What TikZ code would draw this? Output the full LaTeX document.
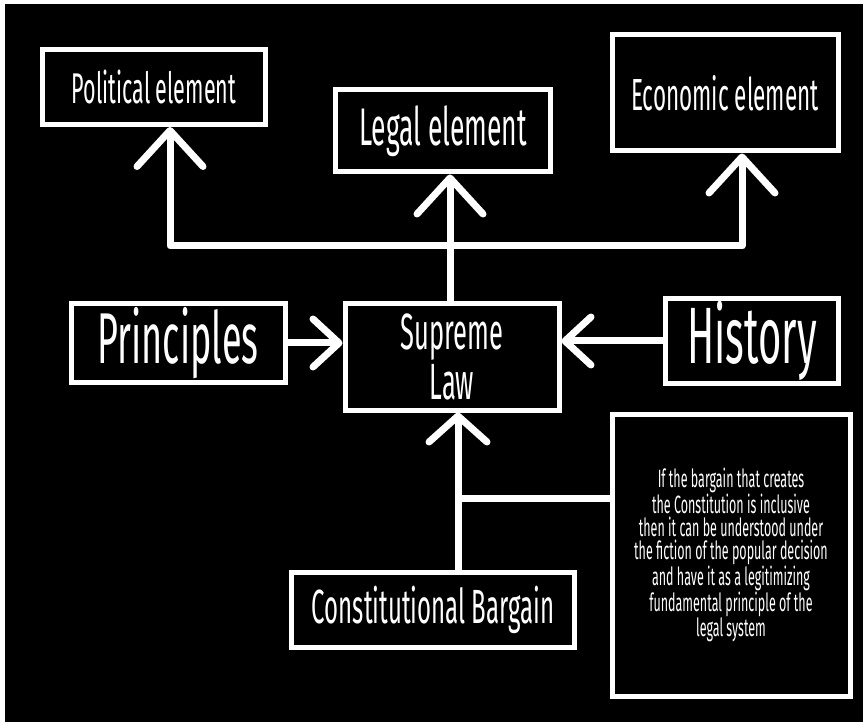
\documentclass[tikz,border=0pt]{standalone}
\usepackage{fontspec}
\setmainfont[FakeStretch=0.5]{Fira Sans}
\usetikzlibrary{arrows.meta}

\begin{document}
\begin{tikzpicture}[x=1pt,y=-1pt,
  box/.style={draw=white,line width=5pt,fill=black,text=white,inner sep=0pt},
  link/.style={draw=white,line width=7pt,line join=round},
  arrbig/.style={link,-{Straight Barb[round,length=36pt,width=66pt]}},
  arrmid/.style={link,-{Straight Barb[round,length=26pt,width=58pt]}},
  arrsmall/.style={link,-{Straight Barb[round,length=26pt,width=48pt]}}]
\fill[white] (0,0) rectangle (863,722);
\fill[black] (5,4) rectangle (863,722);
% the three elements
\node[box,minimum width=223pt,minimum height=75pt,font=\fontsize{43}{48}\selectfont] (political) at (154,87) {Political element};
\node[box,minimum width=215pt,minimum height=82pt,font=\fontsize{53}{60}\selectfont] (legal) at (443,131) {Legal element};
\node[box,minimum width=226pt,minimum height=116pt,font=\fontsize{45}{50}\selectfont] (economic) at (725,93) {Economic element};
% middle row
\node[box,minimum width=214pt,minimum height=78pt,font=\fontsize{72}{80}\selectfont] (principles) at (178,343) {Principles};
\node[box,minimum width=214pt,minimum height=106pt,align=center,font=\fontsize{51}{50}\selectfont] (supreme) at (452,357) {Supreme\\Law};
\node[box,minimum width=173pt,minimum height=84pt,font=\fontsize{80}{88}\selectfont] (history) at (752,341) {History};
% bottom
\node[box,minimum width=283pt,minimum height=75pt,font=\fontsize{48}{52}\selectfont] (bargain) at (433,610) {Constitutional Bargain};
\node[box,minimum width=238pt,minimum height=282pt,align=center,font=\fontsize{25}{23}\selectfont] (note) at (731,555) {If the bargain that creates\\the Constitution is inclusive\\then it can be understood under\\the fiction of the popular decision\\and have it as a legitimizing\\fundamental principle of the\\legal system};
\coordinate (fork) at (450,246);
\coordinate (branch) at (458,498);
\draw[arrbig] (supreme.north -| fork) -- (legal.south -| fork);
\draw[arrbig] (fork) -| ([xshift=16pt]political.south);
\draw[arrbig] (fork) -| ([xshift=17pt]economic.south);
\draw[arrsmall] (principles.east) -- (principles.east -| supreme.west);
\draw[arrsmall] (history.west) -- (history.west -| supreme.east);
\draw[arrmid] (bargain.north -| branch) -- (supreme.south -| branch);
\draw[link] (branch) -- (branch -| note.west);
\end{tikzpicture}
\end{document}
